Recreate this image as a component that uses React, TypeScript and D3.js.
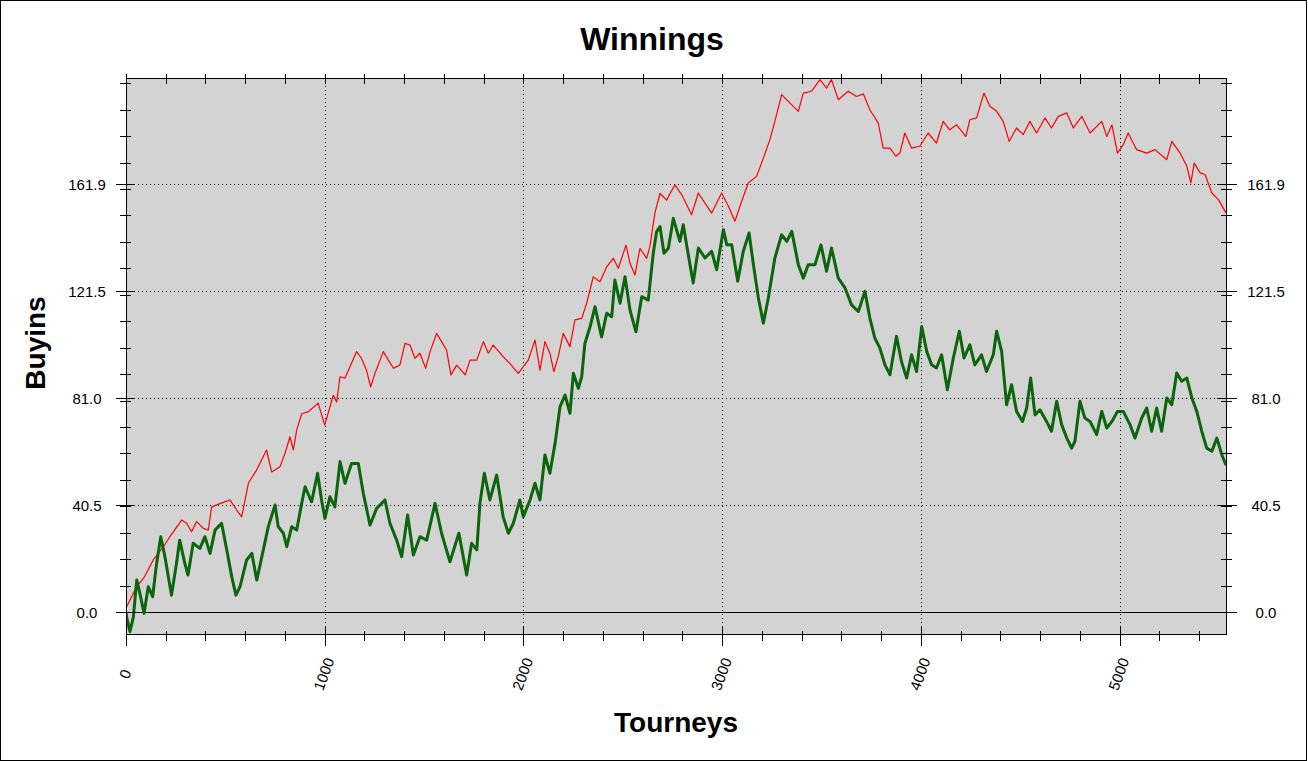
import React from "react";
import * as d3 from "d3";

const W = 1308;
const H = 761;

const titleText = "Winnings";
const xTitle = "Tourneys";
const yTitle = "Buyins";

const xMajorTicks = [0, 1000, 2000, 3000, 4000, 5000];
const yMajorTicks = [0, 40.5, 81.0, 121.5, 161.9];

const redSeries: [number, number][] = [
  [0, 1.5], [54, 9.6], [90, 13], [137, 19.7], [188, 24.7], [221, 28.5], [280, 34.8], [305, 33.6], [330, 30.4], [355, 34.2],
  [389, 31.7], [414, 31], [431, 39.8], [473, 41], [523, 42.4], [557, 38.6], [582, 36], [616, 48.8], [657, 53.7], [707, 61.3],
  [733, 53], [775, 55], [800, 60], [825, 66.3], [842, 61.3], [859, 68.8], [884, 75], [918, 75.8], [967, 79], [1000, 70.7],
  [1043, 82], [1060, 79.5], [1077, 89], [1102, 88.5], [1127, 92.8], [1160, 98.5], [1185, 96], [1210, 91.5], [1231, 85.2], [1253, 90.3],
  [1295, 98.5], [1320, 95.3], [1346, 92.2], [1378, 93.4], [1404, 101.6], [1429, 101], [1454, 96], [1479, 97.9], [1508, 92.2], [1530, 98.5],
  [1563, 105.4], [1588, 102.3], [1613, 99.1], [1635, 89.7], [1664, 93.4], [1707, 89.7], [1731, 95.3], [1765, 95.3], [1798, 102.3], [1823, 97.9],
  [1848, 101], [1898, 96.6], [1932, 94], [1974, 90.3], [1999, 92.8], [2024, 95.3], [2058, 102.9], [2083, 91.5], [2108, 102.3], [2133, 97.9],
  [2153, 90.9], [2175, 96.6], [2200, 105.4], [2234, 100.4], [2259, 110.5], [2293, 111.1], [2318, 116.8], [2351, 126.8], [2385, 124.9], [2419, 130.6],
  [2452, 133.8], [2477, 130], [2516, 138.8], [2536, 131.9], [2561, 127.5], [2586, 137.6], [2620, 133.8], [2636, 138.2], [2661, 150.8], [2687, 158.4],
  [2720, 155.8], [2762, 161.6], [2796, 157.9], [2846, 150.3], [2880, 158.5], [2913, 154.7], [2947, 150.9], [2997, 158.5], [3031, 153.5], [3064, 147.8],
  [3098, 155.4], [3131, 162.3], [3173, 164.8], [3207, 171.7], [3240, 178.7], [3265, 185.6], [3299, 195.7], [3341, 192.5], [3383, 189.4], [3408, 196.3],
  [3450, 197], [3492, 201.4], [3525, 198.2], [3550, 201.4], [3584, 193.8], [3634, 197], [3676, 195], [3710, 196], [3743, 190], [3785, 185],
  [3810, 175.5], [3844, 175.5], [3874, 172.4], [3894, 173.6], [3919, 181.2], [3953, 175.5], [3994, 176.2], [4036, 181.2], [4078, 177.4], [4112, 185.6],
  [4145, 182.4], [4179, 184.3], [4226, 179.9], [4246, 186.2], [4280, 186.9], [4317, 196.3], [4347, 191.3], [4381, 189.4], [4414, 185.6], [4444, 178],
  [4481, 183.1], [4515, 180.6], [4548, 185.6], [4582, 181.2], [4624, 186.9], [4657, 183.1], [4691, 187.5], [4734, 188.8], [4767, 183.1], [4809, 187.5],
  [4851, 181.2], [4910, 185.6], [4935, 179.9], [4961, 184.3], [4989, 173.6], [5018, 176.8], [5043, 181.2], [5085, 174.9], [5136, 173.6], [5178, 174.9],
  [5237, 171.1], [5262, 178], [5304, 173.6], [5338, 168.6], [5358, 162.3], [5375, 169.8], [5405, 166.1], [5430, 165.4], [5464, 158.5], [5497, 156],
  [5535, 150.9],
];

const greenSeries: [number, number][] = [
  [0, 0], [3, -1.8], [20, -7.4], [37, -1.8], [54, 12.1], [70, 7], [91, -0.5], [112, 9.6], [134, 5.8], [154, 18.4],
  [175, 28.5], [196, 20.9], [229, 6.4], [254, 18.4], [270, 27.2], [296, 18.4], [312, 14], [338, 26], [372, 24.1], [397, 28.5],
  [423, 22.2], [448, 31], [481, 33.6], [507, 23.5], [532, 13.4], [553, 6.4], [574, 9.6], [607, 19.7], [633, 22.2], [658, 12.1],
  [691, 23.5], [716, 32.3], [750, 40.5], [766, 32.3], [792, 29.8], [809, 24.7], [834, 32.3], [859, 31], [884, 41.1], [901, 47.4],
  [934, 41.7], [964, 52.5], [984, 42.4], [1001, 35.4], [1026, 43.6], [1051, 39.8], [1077, 56.9], [1102, 48.7], [1135, 56.2], [1169, 56.2],
  [1194, 44.9], [1228, 32.9], [1261, 39.2], [1303, 42.4], [1328, 33.6], [1362, 27.2], [1387, 20.9], [1417, 36.7], [1446, 21.6], [1479, 28.5],
  [1513, 27.2], [1555, 41.1], [1588, 29.8], [1630, 19], [1675, 29.8], [1714, 14], [1739, 26], [1765, 23.5], [1781, 41.1], [1803, 52.5],
  [1831, 42.4], [1865, 51.8], [1898, 36], [1924, 29.8], [1949, 33.6], [1982, 42.4], [1999, 36], [2033, 42.4], [2058, 48.7], [2083, 42.4],
  [2108, 59.4], [2133, 52.5], [2159, 63.8], [2184, 77.7], [2209, 82.1], [2234, 75.2], [2251, 90.3], [2276, 84.6], [2293, 89], [2309, 101.6],
  [2335, 107.9], [2360, 115.5], [2393, 104.1], [2419, 113], [2444, 111.7], [2460, 125.6], [2486, 116.8], [2511, 126.8], [2536, 114.2], [2566, 106],
  [2595, 119.3], [2628, 118], [2653, 135.7], [2670, 143.9], [2687, 145.8], [2707, 135.7], [2729, 137.6], [2754, 148.9], [2787, 140.2], [2804, 146.5],
  [2829, 135.2], [2854, 124.5], [2880, 137.7], [2913, 133.9], [2947, 136.4], [2972, 129.5], [3006, 144.6], [3023, 138.9], [3048, 138.9], [3078, 125.1],
  [3106, 136.4], [3135, 143.4], [3157, 131.4], [3182, 118.8], [3207, 109.3], [3232, 118.8], [3265, 133.9], [3299, 142.7], [3325, 140.2], [3350, 144],
  [3383, 131.4], [3408, 126.3], [3433, 131.4], [3467, 131.4], [3497, 138.9], [3525, 128.9], [3550, 137.7], [3584, 126.3], [3618, 122.6], [3651, 116.2],
  [3685, 113.7], [3718, 121.3], [3743, 111.2], [3768, 103.6], [3793, 99.9], [3819, 93.5], [3844, 89.8], [3877, 104.3], [3902, 94.8], [3928, 88.5],
  [3953, 97.3], [3978, 91], [4004, 108], [4029, 98.6], [4054, 93.5], [4078, 92.3], [4104, 97.3], [4133, 84.1], [4163, 96.1], [4193, 106.2],
  [4217, 96.1], [4246, 101.1], [4271, 93.5], [4305, 97.3], [4330, 91], [4364, 97.3], [4381, 106.2], [4406, 98.6], [4431, 78.4], [4456, 86],
  [4481, 75.9], [4511, 72.1], [4532, 77.2], [4552, 88.5], [4574, 74.6], [4599, 76.5], [4632, 72.1], [4657, 68.4], [4683, 79.7], [4708, 70.9],
  [4734, 65.8], [4758, 62], [4775, 64.6], [4800, 79.7], [4825, 73.4], [4851, 72.1], [4884, 67.1], [4910, 75.9], [4935, 69.6], [4961, 72.1],
  [4989, 75.9], [5018, 75.9], [5052, 70.9], [5077, 65.8], [5111, 73.4], [5136, 77.2], [5161, 68.4], [5186, 77.2], [5211, 68.4], [5237, 81],
  [5262, 78.4], [5287, 90.4], [5312, 87.3], [5338, 88.5], [5363, 81], [5388, 75.9], [5413, 68.4], [5438, 62], [5464, 60.8], [5489, 65.8],
  [5514, 59.5], [5535, 55.5],
];

const FONT = "'Liberation Sans', Arial, Helvetica, sans-serif";

export default function App() {
  const plot = { left: 126, right: 1226, top: 78, bottom: 634 };
  const x = d3.scaleLinear().domain([0, 5535]).range([plot.left, plot.right]);
  const y = d3.scaleLinear().domain([-8.3, 202]).range([plot.bottom, plot.top]);

  const line = d3
    .line<[number, number]>()
    .x((d) => x(d[0]))
    .y((d) => y(d[1]));

  const xMinor = d3.range(0, 5535, 200);
  const yMinor = d3.range(10, 202, 10);

  return (
    <svg
      width={W}
      height={H}
      style={{ position: "absolute", left: 0, top: 0, background: "#fff" }}
      fontFamily={FONT}
    >
      <rect x={0.5} y={0.5} width={W - 2} height={H - 1} fill="#fff" stroke="#000" />
      <defs>
        <clipPath id="plotclip">
          <rect x={plot.left} y={plot.top} width={plot.right - plot.left} height={plot.bottom - plot.top} />
        </clipPath>
      </defs>
      <rect
        x={plot.left}
        y={plot.top}
        width={plot.right - plot.left}
        height={plot.bottom - plot.top}
        fill="#d3d3d3"
      />
      {/* grid */}
      {xMajorTicks
        .filter((t) => t > 0)
        .map((t) => (
          <line
            key={"gx" + t}
            x1={Math.round(x(t)) + 0.5}
            x2={Math.round(x(t)) + 0.5}
            y1={plot.top}
            y2={plot.bottom}
            stroke="#000"
            strokeDasharray="1,3"
          />
        ))}
      {yMajorTicks
        .filter((t) => t > 0)
        .map((t) => (
          <line
            key={"gy" + t}
            x1={plot.left}
            x2={plot.right}
            y1={Math.round(y(t)) + 0.5}
            y2={Math.round(y(t)) + 0.5}
            stroke="#000"
            strokeDasharray="1,3"
          />
        ))}
      {/* zero line */}
      <line x1={116} x2={1237} y1={Math.round(y(0)) + 0.5} y2={Math.round(y(0)) + 0.5} stroke="#000" />
      {/* series */}
      <g clipPath="url(#plotclip)">
        <path d={line(redSeries) || ""} fill="none" stroke="#ff0000" strokeWidth={1.2} strokeLinejoin="round" />
        <path d={line(greenSeries) || ""} fill="none" stroke="#0b650b" strokeWidth={3} strokeLinejoin="round" />
      </g>
      {/* frame */}
      <rect
        x={plot.left + 0.5}
        y={plot.top + 0.5}
        width={plot.right - plot.left}
        height={plot.bottom - plot.top}
        fill="none"
        stroke="#000"
      />
      {/* x ticks */}
      {xMinor.map((t) => {
        const major = t % 1000 === 0;
        const px = Math.round(x(t)) + 0.5;
        return (
          <g key={"xt" + t}>
            <line x1={px} x2={px} y1={major ? 626 : 631} y2={major ? 646 : 641} stroke="#000" />
            <line x1={px} x2={px} y1={74} y2={84} stroke="#000" />
          </g>
        );
      })}
      {/* y minor ticks */}
      {yMinor.map((t) => {
        const py = Math.round(y(t)) + 0.5;
        return (
          <g key={"ym" + t}>
            <line x1={120} x2={131} y1={py} y2={py} stroke="#000" />
            <line x1={1221} x2={1232} y1={py} y2={py} stroke="#000" />
          </g>
        );
      })}
      {/* y major ticks and labels */}
      {yMajorTicks.map((t) => {
        const py = Math.round(y(t)) + 0.5;
        return (
          <g key={"yM" + t}>
            <line x1={116} x2={135} y1={py} y2={py} stroke="#000" />
            <line x1={1217} x2={1237} y1={py} y2={py} stroke="#000" />
            <text x={87} y={py} dy="0.36em" textAnchor="middle" fontSize={15} fill="#000">
              {t.toFixed(1)}
            </text>
            <text x={1266} y={py} dy="0.36em" textAnchor="middle" fontSize={15} fill="#000">
              {t.toFixed(1)}
            </text>
          </g>
        );
      })}
      {/* x labels */}
      {xMajorTicks.map((t) => {
        const px = x(t) - 1;
        return (
          <text
            key={"xl" + t}
            transform={`translate(${px},674) rotate(-70)`}
            textAnchor="middle"
            dy="0.36em"
            fontSize={15}
            fill="#000"
          >
            {t}
          </text>
        );
      })}
      {/* titles */}
      <text x={652} y={50} textAnchor="middle" fontSize={32} fontWeight="bold" fill="#000">
        {titleText}
      </text>
      <text x={676} y={732} textAnchor="middle" fontSize={28} fontWeight="bold" fill="#000">
        {xTitle}
      </text>
      <text
        transform="translate(45,343) rotate(-90)"
        textAnchor="middle"
        fontSize={28}
        fontWeight="bold"
        fill="#000"
      >
        {yTitle}
      </text>
    </svg>
  );
}
